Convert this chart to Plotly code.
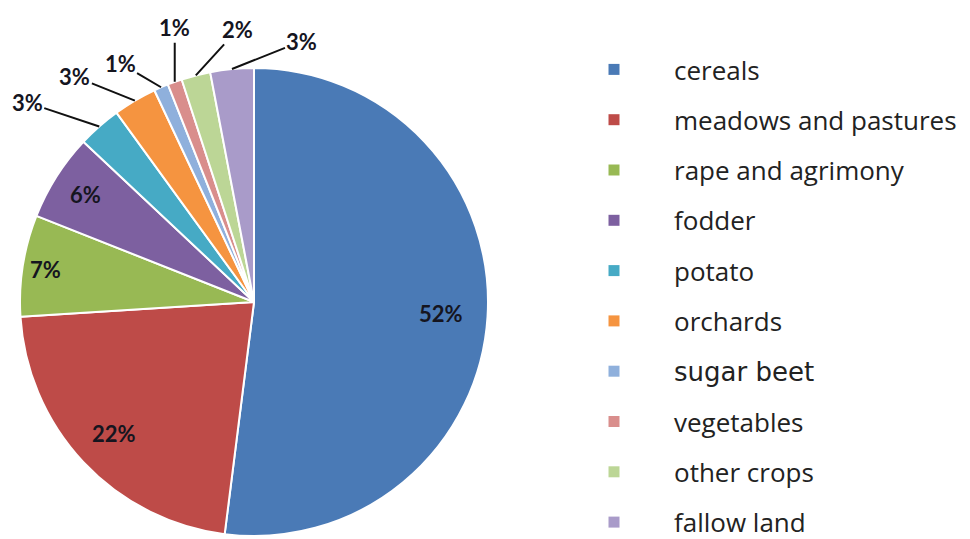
import math
import plotly.graph_objects as go

# ---- data ----
categories = ["cereals", "meadows and pastures", "rape and agrimony", "fodder", "potato",
              "orchards", "sugar beet", "vegetables", "other crops", "fallow land"]
shares = [52, 22, 7, 6, 3, 3, 1, 1, 2, 3]
colors = ["#4A7AB6", "#BE4B48", "#98B954", "#7D60A0", "#46AAC5",
          "#F59440", "#8FB0DC", "#D98E8C", "#BCD696", "#A99BC9"]
inside_label = [True, True, True, True, False, False, False, False, False, False]

# label placement (style): radial fraction for inside labels, pixel offsets for outside ones
inside_rfrac = {0: 0.80, 1: 0.82, 2: 0.90, 3: 0.855}
label_offsets = {4: (-72, -24), 5: (-60, -24), 6: (-41, -24), 7: (0, -54), 8: (42, -46), 9: (70, -28)}

# figure taller than the 539px view so the legend box is not pushed upwards
W, H = 970, 600
CX, CY, R = 254, 302, 234  # pie centre / radius in pixels from top-left (layout)

total = sum(shares)

fig = go.Figure()
fig.add_trace(go.Pie(
    labels=categories, values=shares, sort=False, direction="clockwise", rotation=0,
    marker=dict(colors=colors, line=dict(color="white", width=2)),
    textinfo="none", showlegend=False, hoverinfo="label+percent",
    domain=dict(x=[(CX - R) / W, (CX + R) / W], y=[1 - (CY + R) / H, 1 - (CY - R) / H]),
))

label_font = dict(family="Lato", size=22, color="#15151f", weight="bold")
annotations = []
cum = 0
for i, v in enumerate(shares):
    mid = (cum + v / 2) / total * 2 * math.pi
    cum += v
    if inside_label[i]:
        rr = R * inside_rfrac[i]
        px = CX + rr * math.sin(mid)
        py = CY - rr * math.cos(mid)
        annotations.append(dict(x=px / W, y=1 - py / H, xref="paper", yref="paper",
                                xanchor="center", yanchor="middle",
                                text=f"{v}%", showarrow=False, font=label_font))
    else:
        px = CX + R * math.sin(mid)
        py = CY - R * math.cos(mid)
        ax, ay = label_offsets[i]
        annotations.append(dict(
            x=px / W, y=1 - py / H, xref="paper", yref="paper",
            text=f"{v}%", showarrow=True, arrowhead=0, arrowwidth=2, arrowcolor="#111",
            ax=ax, ay=ay, font=label_font,
        ))

# legend via proxy traces
for i, (cat, col) in enumerate(zip(categories, colors)):
    name = cat if cat != "sugar beet" else '<span style="font-family:DejaVu Sans">sugar beet</span>'
    fig.add_trace(go.Scatter(
        x=[None], y=[None], mode="markers", name=name, legendgroup=f"g{i}",
        marker=dict(symbol="square", size=11, color=col),
    ))

fig.update_layout(
    width=W, height=H, margin=dict(l=0, r=0, t=0, b=0),
    paper_bgcolor="white", plot_bgcolor="white",
    xaxis=dict(visible=False), yaxis=dict(visible=False),
    annotations=annotations,
    legend=dict(x=554 / W, y=1 - 46 / H, xanchor="left", yanchor="top",
                font=dict(family="Open Sans", size=26, color="#222"),
                tracegroupgap=13.5, itemwidth=110, bgcolor="rgba(0,0,0,0)"),
)
fig.write_html("out.html", config={"displayModeBar": False},
               post_script="document.body.style.margin='0';document.body.style.overflow='hidden';")
